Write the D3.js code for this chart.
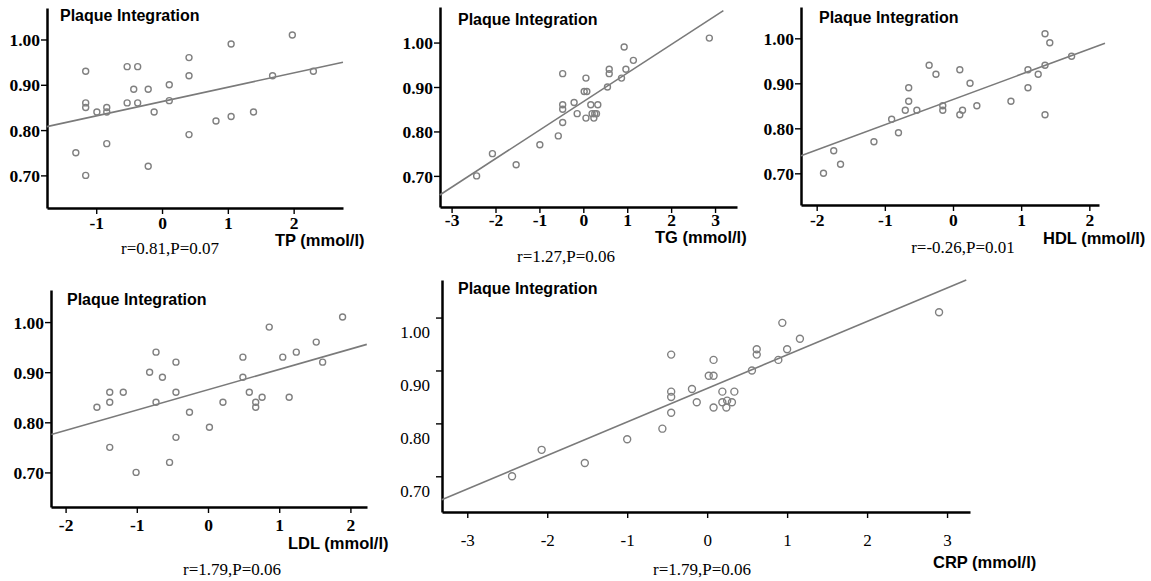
<!DOCTYPE html>
<html lang="en">
<head>
<meta charset="UTF-8">
<script src="https://cdn.jsdelivr.net/npm/d3@7"></script>
<title>Plaque Integration</title>
<style>
  body { margin: 0; background: #fff; }
  .domain { stroke: #000; stroke-width: 2.5; }
  .tick line { stroke: #000; stroke-width: 1.4; }
</style>
</head>
<body>
<svg width="1151" height="581"></svg>
<script>
// ---- data ----
const tpX = [-1.31, -1.16, -1.16, -1.16, -1.16, -0.99, -0.84, -0.84, -0.84, -0.53, -0.53, -0.43, -0.37, -0.37, -0.21,
             -0.21, -0.12, 0.11, 0.11, 0.41, 0.41, 0.41, 0.82, 1.05, 1.05, 1.39, 1.68, 1.98, 2.30];
const tpY = [0.75, 0.70, 0.93, 0.86, 0.85, 0.84, 0.85, 0.84, 0.77, 0.94, 0.86, 0.89, 0.94, 0.86, 0.89,
             0.72, 0.84, 0.90, 0.865, 0.96, 0.92, 0.79, 0.82, 0.99, 0.83, 0.84, 0.92, 1.01, 0.93];

const tgX = [-2.43, -2.07, -1.53, -0.99, -0.57, -0.47, -0.47, -0.47, -0.47, -0.21, -0.14, 0.02, 0.08, 0.06, 0.06,
             0.17, 0.20, 0.24, 0.26, 0.30, 0.33, 0.55, 0.59, 0.59, 0.87, 0.93, 0.97, 1.14, 2.87];
const tgY = [0.70, 0.75, 0.725, 0.77, 0.79, 0.82, 0.85, 0.86, 0.93, 0.865, 0.84, 0.89, 0.89, 0.83, 0.92,
             0.86, 0.84, 0.83, 0.84, 0.84, 0.86, 0.90, 0.93, 0.94, 0.92, 0.99, 0.94, 0.96, 1.01];

const hdlX = [-1.90, -1.75, -1.65, -1.16, -0.90, -0.80, -0.70, -0.65, -0.65, -0.53, -0.35, -0.25, -0.15, -0.15,
              0.10, 0.10, 0.14, 0.25, 0.35, 0.85, 1.10, 1.10, 1.25, 1.35, 1.35, 1.35, 1.42, 1.74];
const hdlY = [0.70, 0.75, 0.72, 0.77, 0.82, 0.79, 0.84, 0.86, 0.89, 0.84, 0.94, 0.92, 0.85, 0.84,
              0.93, 0.83, 0.84, 0.90, 0.85, 0.86, 0.93, 0.89, 0.92, 1.01, 0.94, 0.83, 0.99, 0.96];

const ldlX = [-1.56, -1.38, -1.38, -1.38, -1.19, -1.01, -0.82, -0.73, -0.73, -0.64, -0.54, -0.45, -0.45, -0.45, -0.26,
              0.02, 0.21, 0.49, 0.49, 0.58, 0.67, 0.67, 0.76, 0.86, 1.05, 1.14, 1.24, 1.52, 1.61, 1.89];
const ldlY = [0.83, 0.86, 0.84, 0.75, 0.86, 0.70, 0.90, 0.94, 0.84, 0.89, 0.72, 0.92, 0.86, 0.77, 0.82,
              0.79, 0.84, 0.93, 0.89, 0.86, 0.84, 0.83, 0.85, 0.99, 0.93, 0.85, 0.94, 0.96, 0.92, 1.01];

const crpX = [-2.44, -2.07, -1.53, -1.00, -0.56, -0.45, -0.45, -0.45, -0.45, -0.19, -0.13, 0.02, 0.08, 0.08, 0.08,
              0.19, 0.19, 0.24, 0.25, 0.31, 0.34, 0.56, 0.62, 0.62, 0.89, 0.94, 1.00, 1.16, 2.90];
const crpY = [0.70, 0.75, 0.725, 0.77, 0.79, 0.82, 0.85, 0.86, 0.93, 0.865, 0.84, 0.89, 0.89, 0.92, 0.83,
              0.86, 0.84, 0.83, 0.843, 0.84, 0.86, 0.90, 0.93, 0.94, 0.92, 0.99, 0.94, 0.96, 1.01];

// fitted lines: [intercept, slope] and the x span they are drawn over
const tpFit = [0.863, 0.0316],  tpLineX = [-1.75, 2.75];
const tgFit = [0.867, 0.0642],  tgLineX = [-3.27, 3.19];
const hdlFit = [0.864, 0.056],  hdlLineX = [-2.23, 2.23];
const ldlFit = [0.865, 0.0406], ldlLineX = [-2.2, 2.23];
const crpFit = [0.866, 0.0633], crpLineX = [-3.32, 3.24];

const yTicks = [0.70, 0.80, 0.90, 1.00];
const xTicksTp = [-1, 0, 1, 2];
const xTicksTg = [-3, -2, -1, 0, 1, 2, 3];
const xTicks2 = [-2, -1, 0, 1, 2];

const yTitle = 'Plaque Integration';
const xTitles = ['TP (mmol/l)', 'TG (mmol/l)', 'HDL (mmol/l)', 'LDL (mmol/l)', 'CRP (mmol/l)'];
const captions = ['r=0.81,P=0.07', 'r=1.27,P=0.06', 'r=-0.26,P=0.01', 'r=1.79,P=0.06', 'r=1.79,P=0.06'];

// ---- layout ----
const panels = [
  { xs: tpX, ys: tpY, fit: tpFit, lineX: tpLineX, xTicks: xTicksTp,
    box: [47, 343, 8, 208], xDom: [-1.748, 2.75], yDom: [0.628, 1.0695],
    title: [60, 21, 16], xt: [275, 246, 16.5], cap: [170, 254, 17],
    tickFont: 17.5, tickBold: true, xLabY: 21, yLabX: -7, yLabDy: 0, r: 3 },
  { xs: tgX, ys: tgY, fit: tgFit, lineX: tgLineX, xTicks: xTicksTg,
    box: [440, 737, 7, 207], xDom: [-3.264, 3.5], yDom: [0.630, 1.080],
    title: [458, 25, 16], xt: [655, 243, 16.5], cap: [566, 262, 17],
    tickFont: 17.5, tickBold: true, xLabY: 19, yLabX: -7, yLabDy: 0, r: 3 },
  { xs: hdlX, ys: hdlY, fit: hdlFit, lineX: hdlLineX, xTicks: xTicks2,
    box: [801, 1099, 7, 205], xDom: [-2.23, 2.142], yDom: [0.6296, 1.0696],
    title: [819, 23, 16], xt: [1043, 244, 16.5], cap: [963, 253, 17],
    tickFont: 17.5, tickBold: true, xLabY: 21, yLabX: -7, yLabDy: 0, r: 3 },
  { xs: ldlX, ys: ldlY, fit: ldlFit, lineX: ldlLineX, xTicks: xTicks2,
    box: [51, 367, 290, 507], xDom: [-2.205, 2.233], yDom: [0.631, 1.064],
    title: [67, 305, 16], xt: [288, 549, 16.5], cap: [232, 575, 17],
    tickFont: 17.5, tickBold: true, xLabY: 24, yLabX: -7, yLabDy: 0, r: 3 },
  { xs: crpX, ys: crpY, fit: crpFit, lineX: crpLineX, xTicks: xTicksTg,
    box: [442, 970, 280, 512], xDom: [-3.316, 3.287], yDom: [0.6325, 1.071],
    title: [458, 294, 16], xt: [933, 568, 16.5], cap: [702, 575, 17],
    tickFont: 17, tickBold: false, xLabY: 34, yLabX: -12, yLabDy: 14, r: 3.5 }
];

const svg = d3.select('svg');
const serif = '"Liberation Serif", "Times New Roman", serif';
const sans = '"Liberation Sans", Arial, sans-serif';

panels.forEach((p, i) => {
  const [l, r, t, b] = p.box;
  const x = d3.scaleLinear().domain(p.xDom).range([l, r]);
  const y = d3.scaleLinear().domain(p.yDom).range([b, t]);
  const g = svg.append('g');

  // axes
  const gx = g.append('g').attr('transform', `translate(0,${b})`)
    .call(d3.axisBottom(x).tickValues(p.xTicks).tickSize(6).tickSizeOuter(0).tickFormat(d => String(d)));
  const gy = g.append('g').attr('transform', `translate(${l},0)`)
    .call(d3.axisLeft(y).tickValues(yTicks).tickSize(6).tickSizeOuter(0).tickFormat(d => d.toFixed(2)));

  [gx, gy].forEach(a => a.selectAll('text')
    .style('font-family', serif)
    .style('font-size', p.tickFont + 'px')
    .style('font-weight', p.tickBold ? 'bold' : 'normal')
    .attr('fill', '#000'));
  gx.selectAll('text').attr('dy', null).attr('y', p.xLabY);
  gy.selectAll('text').attr('x', p.yLabX).attr('dy', (0.35 * p.tickFont + p.yLabDy) + 'px');

  // regression line
  const line = d3.line().x(d => x(d)).y(d => y(p.fit[0] + p.fit[1] * d));
  g.append('path').datum(p.lineX).attr('d', line)
    .attr('fill', 'none').attr('stroke', '#7a7a7a').attr('stroke-width', 1.6);

  // points
  g.selectAll('circle').data(d3.zip(p.xs, p.ys)).join('circle')
    .attr('cx', d => x(d[0])).attr('cy', d => y(d[1])).attr('r', p.r)
    .attr('fill', 'none').attr('stroke', '#808080').attr('stroke-width', 1.4);

  // texts
  g.append('text').attr('x', p.title[0]).attr('y', p.title[1]).text(yTitle)
    .style('font-family', sans).style('font-weight', 'bold').style('font-size', p.title[2] + 'px');
  g.append('text').attr('x', p.xt[0]).attr('y', p.xt[1]).text(xTitles[i])
    .style('font-family', sans).style('font-weight', 'bold').style('font-size', p.xt[2] + 'px');
  g.append('text').attr('x', p.cap[0]).attr('y', p.cap[1]).attr('text-anchor', 'middle').text(captions[i])
    .style('font-family', serif).style('font-size', p.cap[2] + 'px');
});
</script>
</body>
</html>
